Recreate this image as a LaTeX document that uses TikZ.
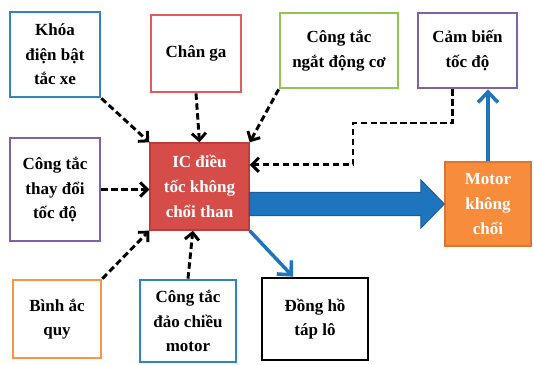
\documentclass[tikz,border=0pt]{standalone}
\usepackage{fontspec}
\setmainfont{Liberation Serif}
\usetikzlibrary{arrows.meta, positioning, calc}
\definecolor{lineblue}{RGB}{46,134,193}
\definecolor{linered}{RGB}{224,92,92}
\definecolor{linegreen}{RGB}{146,196,80}
\definecolor{linepurple}{RGB}{128,96,168}
\definecolor{lineorange}{RGB}{247,150,70}
\definecolor{icred}{RGB}{214,76,72}
\definecolor{icborder}{RGB}{190,60,58}
\definecolor{motororange}{RGB}{247,140,60}
\definecolor{motorborder}{RGB}{222,118,48}
\definecolor{flowblue}{RGB}{30,117,190}
\definecolor{flowborder}{RGB}{25,92,155}

\begin{document}
\begin{tikzpicture}[
        x=0.03cm, y=-0.03cm,
        box/.style={rectangle, draw=#1, fill=white, line width=2.3pt, align=center, inner sep=2pt, font=\fontsize{14.5}{21}\selectfont\bfseries},
        filledbox/.style={rectangle, draw=#1, line width=1.2pt, align=center, inner sep=2pt, text=white, font=\fontsize{14.5}{21}\selectfont\bfseries},
        dasharrow/.style={-{Straight Barb[length=6pt, width=12pt]}, line width=2.5pt, dash pattern=on 5.5pt off 3pt},
        flowarrow/.style={-{Straight Barb[length=9pt, width=17pt]}, line width=3pt, draw=flowblue},
        bigarrow/.style={fill=flowblue, draw=flowborder, line width=0.8pt}
    ]
        \useasboundingbox (0,0) rectangle (534,364);

        \node[box=lineblue, minimum width=2.7cm, minimum height=2.55cm] (khoa) at (55,54.5) {Khóa\\điện bật\\tắc xe};
        \node[box=linered, minimum width=2.7cm, minimum height=2.31cm] (changa) at (196,53.5) {Chân ga};
        \node[box=linegreen, minimum width=3.54cm, minimum height=2.25cm] (ngat) at (339,50.5) {Công tắc\\ngắt động cơ};
        \node[box=linepurple, minimum width=2.97cm, minimum height=2.25cm] (cambien) at (467.5,50.5) {Cảm biến\\tốc độ};
        \node[box=linepurple, minimum width=2.7cm, minimum height=3.09cm] (thaydoi) at (55,189.5) {Công tắc\\thay đổi\\tốc độ};
        \node[filledbox=icborder, fill=icred, minimum width=2.97cm, minimum height=2.61cm] (ic) at (199.5,186.5) {IC điều\\tốc không\\chổi than};
        \node[filledbox=motorborder, fill=motororange, minimum width=2.58cm, minimum height=2.52cm] (motor) at (488,204) {Motor\\không\\chổi};
        \node[box=lineorange, minimum width=2.64cm, minimum height=2.34cm] (acquy) at (57,319) {Bình ắc\\quy};
        \node[box=lineblue, minimum width=2.88cm, minimum height=2.46cm] (daochieu) at (188,321) {Công tắc\\đảo chiều\\motor};
        \node[box=black, minimum width=3.18cm, minimum height=2.46cm] (dongho) at (315,319) {Đồng hồ\\táp lô};

        \coordinate (turn) at (353,123);
        \coordinate (bigstart) at (ic.east |- motor.west);

        \draw[dasharrow] (khoa.south east) -- (ic.north west);
        \draw[dasharrow] (changa.south) -- (ic.north);
        \draw[dasharrow] (ngat.south west) -- (ic.north east);
        \draw[dasharrow] (thaydoi.east) -- (thaydoi.east -| ic.west);
        \draw[dasharrow] (acquy.north east) -- (ic.south west);
        \draw[dasharrow] (daochieu.north) -- ([xshift=-0.2cm]ic.south);
        \draw[dasharrow] ([xshift=-0.44cm]cambien.south) |- (turn) |- ([yshift=0.65cm]ic.east);

        \filldraw[bigarrow] ($(bigstart)+(0,0.35cm)$) -- ($(motor.west)+(-0.7cm,0.35cm)$) -- ($(motor.west)+(-0.7cm,0.72cm)$) -- (motor.west)
            -- ($(motor.west)+(-0.7cm,-0.72cm)$) -- ($(motor.west)+(-0.7cm,-0.35cm)$) -- ($(bigstart)+(0,-0.35cm)$) -- cycle;
        \draw[flowarrow] (ic.south east) -- ([xshift=-0.66cm]dongho.north);
        \draw[flowarrow] (motor.north) -- (motor.north |- cambien.south);
    \end{tikzpicture}
\end{document}
